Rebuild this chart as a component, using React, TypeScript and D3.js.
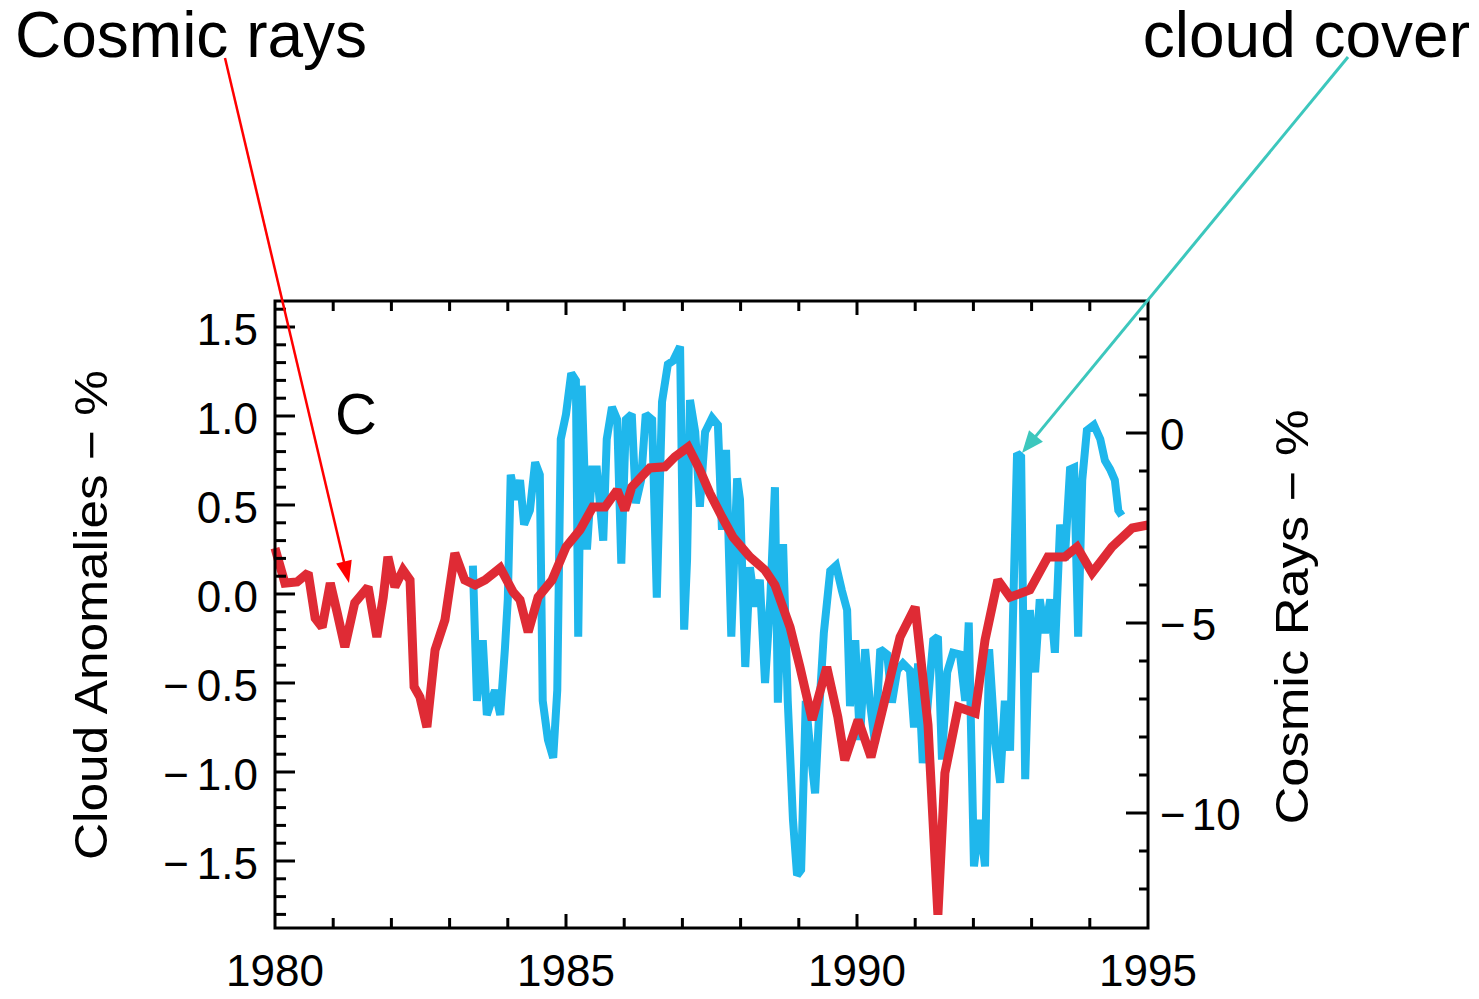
import React from "react";
import * as d3 from "d3";

// cosmic ray flux, % (right axis)
const crYears = [
  1980.0, 1980.17, 1980.38, 1980.57, 1980.69, 1980.81, 1980.95, 1981.07, 1981.2, 1981.37,
  1981.6, 1981.75, 1981.86, 1981.94, 1982.06, 1982.2, 1982.32, 1982.39, 1982.49, 1982.61,
  1982.75, 1982.92, 1983.09, 1983.26, 1983.44, 1983.61, 1983.87, 1984.09, 1984.21, 1984.35,
  1984.52, 1984.76, 1985.0, 1985.24, 1985.46, 1985.67, 1985.88, 1986.01, 1986.13, 1986.44,
  1986.7, 1986.87, 1987.1, 1987.3, 1987.47, 1987.68, 1987.87, 1988.16, 1988.42, 1988.59,
  1988.85, 1989.02, 1989.23, 1989.48, 1989.67, 1989.79, 1990.02, 1990.24, 1990.52, 1990.74,
  1991.0, 1991.22, 1991.39, 1991.51, 1991.74, 1992.03, 1992.2, 1992.42, 1992.63, 1992.97,
  1993.28, 1993.57, 1993.78, 1994.04, 1994.38, 1994.73, 1995.0,
];
const crValues = [
  -3.03, -3.95, -3.92, -3.68, -4.87, -5.11, -3.95, -4.74, -5.63, -4.47,
  -4.05, -5.37, -4.32, -3.26, -4.05, -3.61, -3.87, -6.68, -6.95, -7.74,
  -5.71, -4.92, -3.16, -3.87, -4.0, -3.87, -3.55, -4.18, -4.39, -5.24,
  -4.32, -3.87, -3.0, -2.55, -1.95, -1.95, -1.5, -2.03, -1.42, -0.92,
  -0.89, -0.63, -0.37, -0.97, -1.58, -2.21, -2.74, -3.26, -3.61, -4.0,
  -5.11, -6.16, -7.55, -6.16, -7.47, -8.61, -7.55, -8.53, -6.76, -5.37,
  -4.58, -7.68, -12.68, -8.95, -7.21, -7.37, -5.45, -3.87, -4.32, -4.13,
  -3.26, -3.26, -3.0, -3.68, -3.0, -2.5, -2.42,
];

// cloud cover anomalies, % (left axis)
const cloudYears = [
  1983.4, 1983.47, 1983.57, 1983.64, 1983.78, 1983.87, 1983.95, 1984.0, 1984.05, 1984.14,
  1984.21, 1984.28, 1984.38, 1984.47, 1984.55, 1984.6, 1984.69, 1984.78, 1984.85, 1984.91,
  1985.0, 1985.09, 1985.17, 1985.21, 1985.27, 1985.36, 1985.45, 1985.53, 1985.64, 1985.7,
  1985.79, 1985.88, 1985.95, 1986.03, 1986.13, 1986.2, 1986.29, 1986.37, 1986.48, 1986.56,
  1986.65, 1986.75, 1986.84, 1986.96, 1987.03, 1987.08, 1987.13, 1987.22, 1987.3, 1987.39,
  1987.51, 1987.61, 1987.68, 1987.75, 1987.84, 1987.94, 1987.99, 1988.08, 1988.16, 1988.25,
  1988.33, 1988.42, 1988.51, 1988.59, 1988.64, 1988.73, 1988.81, 1988.9, 1988.97, 1989.04,
  1989.12, 1989.19, 1989.28, 1989.36, 1989.43, 1989.54, 1989.64, 1989.74, 1989.83, 1989.88,
  1989.97, 1990.05, 1990.14, 1990.22, 1990.31, 1990.4, 1990.52, 1990.6, 1990.69, 1990.79,
  1990.91, 1990.98, 1991.05, 1991.13, 1991.22, 1991.31, 1991.39, 1991.46, 1991.55, 1991.65,
  1991.77, 1991.86, 1991.92, 1992.01, 1992.11, 1992.2, 1992.27, 1992.37, 1992.46, 1992.54,
  1992.63, 1992.68, 1992.75, 1992.82, 1992.89, 1992.97, 1993.06, 1993.14, 1993.23, 1993.32,
  1993.4, 1993.49, 1993.57, 1993.66, 1993.73, 1993.8, 1993.87, 1993.95, 1994.07, 1994.18,
  1994.26, 1994.35, 1994.43, 1994.49, 1994.55,
];
const cloudValues = [
  0.16, -0.6, -0.26, -0.68, -0.54, -0.68, -0.31, -0.03, 0.67, 0.53,
  0.64, 0.39, 0.47, 0.74, 0.67, -0.6, -0.82, -0.92, -0.54, 0.87,
  1.01, 1.24, 1.2, -0.24, 1.17, 0.25, 0.7, 0.7, 0.3, 0.87,
  1.05, 0.98, 0.17, 0.98, 1.01, 0.51, 0.64, 1.01, 0.98, -0.02,
  1.08, 1.29, 1.31, 1.39, -0.2, 0.19, 1.09, 0.91, 0.49, 0.91,
  0.99, 0.95, 0.36, 0.81, -0.24, 0.65, 0.53, -0.41, 0.15, -0.07,
  0.08, -0.5, -0.03, 0.6, -0.61, 0.28, -0.6, -1.27, -1.58, -1.55,
  -0.6, -0.85, -1.12, -0.6, -0.22, 0.13, 0.16, 0.02, -0.09, -0.63,
  -0.26, -0.82, -0.31, -0.6, -0.84, -0.31, -0.34, -0.61, -0.43, -0.39,
  -0.43, -0.75, -0.39, -0.95, -0.6, -0.26, -0.24, -0.93, -0.44, -0.33,
  -0.34, -0.6, -0.16, -1.53, -1.27, -1.53, -0.31, -0.82, -1.06, -0.6,
  -0.88, -0.13, 0.79, 0.77, -1.04, -0.09, -0.44, -0.03, -0.22, -0.03,
  -0.33, 0.39, 0.19, 0.7, 0.71, -0.24, 0.64, 0.92, 0.95, 0.87,
  0.75, 0.7, 0.64, 0.47, 0.44,
];

const xLabelYears = [1980, 1985, 1990, 1995];
const leftLabels = [-1.5, -1.0, -0.5, 0.0, 0.5, 1.0, 1.5];
const rightLabels = [-10, -5, 0];

const W = 1479;
const H = 999;
const left = 275;
const right = 1148;
const top = 301;
const bottom = 928;

const FONT = "'Liberation Sans', Arial, sans-serif";

// filled arrowhead pointing from (x1,y1) to tip (x2,y2)
function headPath(x1: number, y1: number, x2: number, y2: number, len: number, half: number) {
  const a = Math.atan2(y2 - y1, x2 - x1);
  const bx = x2 - len * Math.cos(a);
  const by = y2 - len * Math.sin(a);
  const px = -Math.sin(a) * half;
  const py = Math.cos(a) * half;
  return `M${x2},${y2} L${bx + px},${by + py} L${bx - px},${by - py} Z`;
}

export default function App() {
  const x = d3.scaleLinear().domain([1980, 1995]).range([left, right]);
  const yL = d3.scaleLinear().domain([-1.5, 1.5]).range([861, 327]);
  const yR = d3.scaleLinear().domain([-10, 0]).range([813, 433]);

  const cloudLine = d3
    .line<number>()
    .x((_, i) => x(cloudYears[i]))
    .y((d) => yL(d));
  const crLine = d3
    .line<number>()
    .x((_, i) => x(crYears[i]))
    .y((d) => yR(d));

  const yearTicks = d3.range(1981, 1995);
  const leftMinor = d3.range(-18, 17).map((d) => d / 10).filter((v) => yL(v) > top + 2 && yL(v) < bottom - 2);
  const rightMinor = d3.range(-12, 4).filter((v) => yR(v) > top + 2 && yR(v) < bottom - 2);

  const fmtL = (v: number) => Math.abs(v).toFixed(1);

  // annotation arrows
  const red = { x1: 225, y1: 58, x2: 349, y2: 583 };
  const cyan = { x1: 1348, y1: 57, x2: 1022, y2: 453 };

  return (
    <svg width={W} height={H} style={{ position: "absolute", left: 0, top: 0, background: "#fff" }}>
      <defs>
        <clipPath id="plot">
          <rect x={left - 6} y={top} width={right - left + 12} height={bottom - top} />
        </clipPath>
      </defs>

      {/* series */}
      <g clipPath="url(#plot)">
        <path d={cloudLine(cloudValues) || ""} fill="none" stroke="#1fb7ec" strokeWidth={8} strokeLinejoin="miter" strokeMiterlimit={2} />
        <path d={crLine(crValues) || ""} fill="none" stroke="#df2b35" strokeWidth={9} strokeLinejoin="miter" strokeMiterlimit={2} />
      </g>

      {/* frame */}
      <rect x={left} y={top} width={right - left} height={bottom - top} fill="none" stroke="#000" strokeWidth={3} />

      {/* x ticks (top and bottom) */}
      {yearTicks.map((yr) => {
        const len = yr % 5 === 0 ? 14 : 10;
        return (
          <g key={yr} stroke="#000" strokeWidth={3}>
            <line x1={x(yr)} x2={x(yr)} y1={bottom} y2={bottom - len} />
            <line x1={x(yr)} x2={x(yr)} y1={top} y2={top + len} />
          </g>
        );
      })}
      {xLabelYears.map((yr) => (
        <text key={yr} x={x(yr)} y={986} textAnchor="middle" fontFamily={FONT} fontSize={44} fill="#000">
          {yr}
        </text>
      ))}

      {/* left axis */}
      {leftMinor.map((v) => {
        const major = Math.abs(Math.round(v * 10) % 5) === 0;
        return <line key={v} x1={left} x2={left + (major ? 20 : 11)} y1={yL(v)} y2={yL(v)} stroke="#000" strokeWidth={3} />;
      })}
      {leftLabels.map((v) => (
        <text key={v} x={258} y={yL(v) + 18} textAnchor="end" fontFamily={FONT} fontSize={44} fill="#000">
          {v < 0 ? <tspan>{"\u2212"}</tspan> : null}
          <tspan dx={v < 0 ? 8 : 0}>{fmtL(v)}</tspan>
        </text>
      ))}

      {/* right axis */}
      {rightMinor.map((v) => {
        const major = v % 5 === 0;
        return <line key={v} x1={right} x2={right - (major ? 22 : 9)} y1={yR(v)} y2={yR(v)} stroke="#000" strokeWidth={3} />;
      })}
      {rightLabels.map((v) => (
        <text key={v} x={1160} y={yR(v) + 17} textAnchor="start" fontFamily={FONT} fontSize={44} fill="#000">
          {v < 0 ? <tspan>{"\u2212"}</tspan> : null}
          <tspan dx={v < 0 ? 6 : 0}>{Math.abs(v)}</tspan>
        </text>
      ))}

      {/* axis titles */}
      <text
        transform={`translate(107, 615) rotate(-90)`}
        textAnchor="middle"
        fontFamily={FONT}
        fontSize={46}
        textLength={490}
        lengthAdjust="spacingAndGlyphs"
        fill="#000"
      >
        {"Cloud Anomalies \u2212 %"}
      </text>
      <text
        transform={`translate(1308, 617) rotate(-90)`}
        textAnchor="middle"
        fontFamily={FONT}
        fontSize={46}
        textLength={415}
        lengthAdjust="spacingAndGlyphs"
        fill="#000"
      >
        {"Cosmic Rays \u2212 %"}
      </text>

      {/* panel label */}
      <text x={335} y={434} fontFamily={FONT} fontSize={58} fill="#000">
        C
      </text>

      {/* annotations */}
      <text x={15} y={57} fontFamily={FONT} fontSize={64} fill="#000">
        Cosmic rays
      </text>
      <text x={1470} y={57} textAnchor="end" fontFamily={FONT} fontSize={64} fill="#000">
        cloud cover
      </text>
      <line x1={red.x1} y1={red.y1} x2={red.x1 + (red.x2 - red.x1) * 0.965} y2={red.y1 + (red.y2 - red.y1) * 0.965} stroke="#ff0000" strokeWidth={2.5} />
      <path d={headPath(red.x1, red.y1, red.x2, red.y2, 22, 8)} fill="#ff0000" />
      <line x1={cyan.x1} y1={cyan.y1} x2={cyan.x1 + (cyan.x2 - cyan.x1) * 0.97} y2={cyan.y1 + (cyan.y2 - cyan.y1) * 0.97} stroke="#3cc7bd" strokeWidth={3} />
      <path d={headPath(cyan.x1, cyan.y1, cyan.x2, cyan.y2, 22, 9)} fill="#3cc7bd" />
    </svg>
  );
}
